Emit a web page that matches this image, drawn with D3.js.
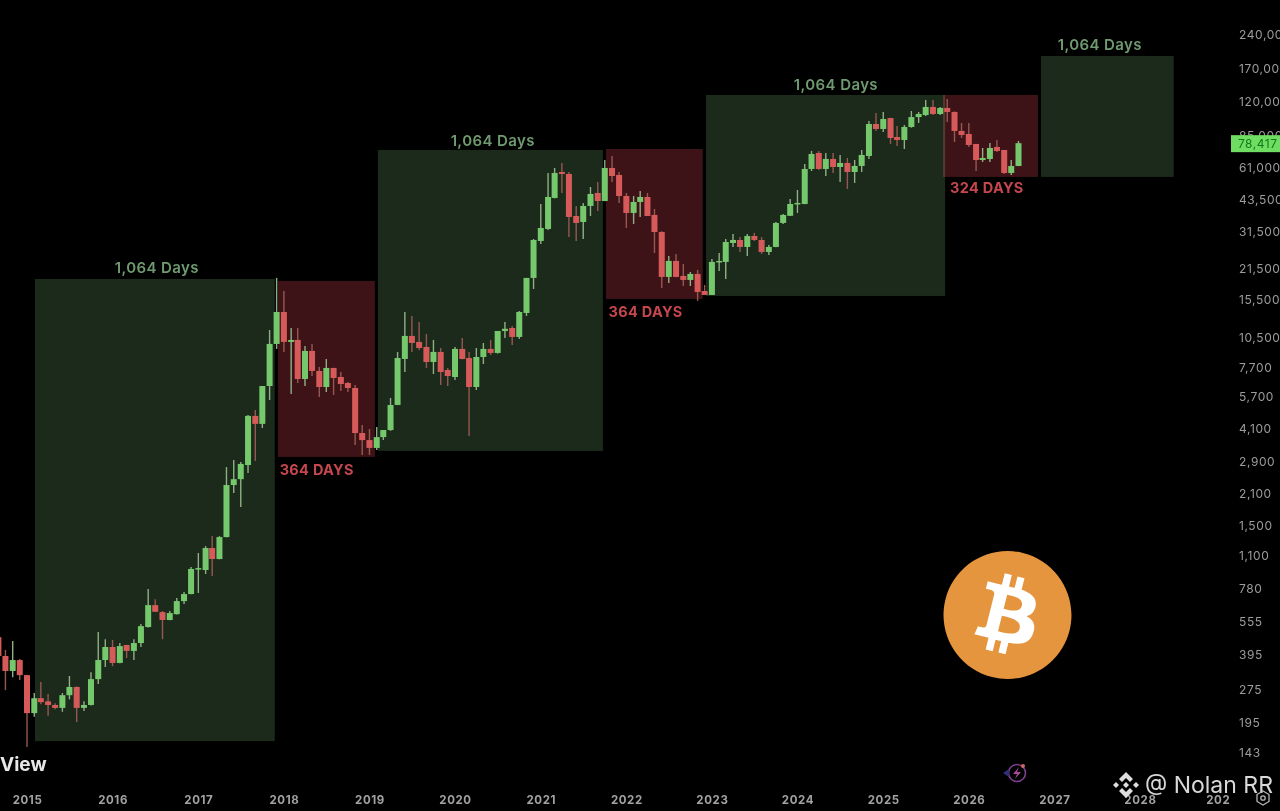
<!DOCTYPE html>
<html lang="en">
<head>
    <meta charset="UTF-8">
    <title>BTC monthly cycles</title>
    <script src="https://d3js.org/d3.v7.min.js"></script>
    <style>
        html, body { margin: 0; background: #000; overflow: hidden; }
        svg { display: block; background: #000; }
        text { font-family: Inter, "Liberation Sans", sans-serif; }
        .zone { mix-blend-mode: screen; }
        .green-label { fill: #6f9a6f; font-size: 15px; font-weight: 600; letter-spacing: 0.4px; text-anchor: middle; }
        .red-label { fill: #c4474d; font-size: 14.5px; font-weight: 700; letter-spacing: 0.3px; }
        .y-axis text { fill: #9c9c9c; font-size: 12px; letter-spacing: 0.6px; }
        .x-axis text { fill: #a2a2a2; font-size: 11.5px; font-weight: 700; letter-spacing: 0.6px; }
        .domain, .tick line { display: none; }
    </style>
</head>
<body>
<svg width="1280" height="811">
    <defs>
        <filter id="soft" x="-5%" y="-5%" width="110%" height="110%">
            <feGaussianBlur stdDeviation="0.45"></feGaussianBlur>
        </filter>
    </defs>
</svg>
<script>
    const firstMonth = "2014-09-01";

    const opens = [
        474, 390, 334, 374,
        320, 216, 252, 244, 235, 228, 260, 283, 228, 235, 307, 374,
        428, 363, 437, 411, 446, 526, 660, 614, 566, 601, 688, 740,
        959, 949, 1191, 1063, 1334, 2285, 2428, 2810, 4671, 4301, 6364, 9832,
        13683, 10037, 10246, 6841, 9145, 7435, 6298, 7669, 6984, 6565, 6234, 3913,
        3637, 3354, 3751, 4036, 5230, 8415, 10679, 10037, 9530, 8158, 9051, 7511,
        6984, 9336, 8502, 6298, 8590, 9336, 8958, 11241, 11595, 10569, 13543, 19458,
        28516, 32288, 44490, 58210, 57020, 36936, 34716, 40955, 46854, 43120, 60671, 56430,
        45417, 38098, 42687, 44950, 37320, 31300, 19660, 23196, 19863, 19060, 20274, 17003,
        16320, 22957, 22957, 27930, 28811, 26800, 30030, 28811, 25450, 26800, 34360, 37000,
        41815, 41815, 60050, 70870, 60050, 66590, 61300, 63897, 58210, 61940, 68682, 95585,
        90800, 101700, 83600, 81050, 92700, 102700, 104900, 114000, 106060, 112860, 108280, 88960,
        86240, 77770, 65902, 66590, 75400, 73080, 57617, 61940
    ];
    const highs = [
        480, 415, 455, 378,
        321, 266, 298, 263, 239, 266, 317, 285, 244, 330, 500, 464,
        460, 446, 438, 464, 543, 779, 702, 621, 621, 710, 755, 979,
        1131, 1215, 1348, 1348, 2752, 2963, 2902, 4720, 4966, 6364, 11357, 19458,
        17003, 11595, 11595, 9630, 9832, 7748, 8415, 7680, 7358, 6632, 6430, 4250,
        4078, 4163, 4036, 5623, 9051, 13683, 13133, 12344, 10898, 10246, 9433, 7669,
        9530, 10461, 9051, 9433, 9934, 10246, 11241, 12344, 11837, 13826, 19458, 29111,
        41815, 57617, 60671, 63897, 58210, 40955, 42251, 49847, 52491, 65902, 68682, 58210,
        46854, 45417, 47831, 46854, 39705, 31500, 24426, 24935, 22489, 20697, 21130, 18090,
        23680, 25190, 29111, 30662, 29718, 30662, 31000, 29700, 27360, 34716, 37700, 44030,
        48320, 63240, 72400, 72400, 70870, 70870, 69400, 67280, 65902, 73080, 98600, 107170,
        108280, 102000, 93670, 94650, 109400, 108280, 122600, 122600, 114000, 123870, 108800, 96580,
        96580, 77800, 74600, 78500, 81050, 73100, 65902, 80200
    ];
    const lows = [
        388, 274, 313, 304,
        152, 208, 237, 210, 225, 219, 249, 197, 221, 234, 292, 348,
        351, 362, 382, 374, 428, 524, 614, 464, 565, 599, 667, 738,
        748, 910, 892, 1060, 1330, 2104, 1820, 2587, 2932, 4120, 5508, 9336,
        9051, 5859, 6565, 6364, 7057, 5681, 5981, 5800, 6044, 5981, 3460, 3120,
        3120, 3286, 3637, 4000, 5220, 7358, 9051, 9240, 7669, 7207, 6430, 6364,
        6771, 8400, 3790, 6106, 7991, 8770, 8900, 10461, 9730, 10353, 13133, 17357,
        27645, 31954, 44300, 46854, 29718, 28516, 29111, 36936, 38900, 43000, 52491, 42251,
        32624, 34000, 36554, 36936, 25200, 17538, 18478, 19600, 17904, 17904, 15339, 16300,
        16300, 20900, 19257, 26800, 25450, 24426, 28516, 24935, 24680, 26700, 34000, 36900,
        38100, 41700, 58800, 59430, 55850, 57617, 52491, 48830, 51960, 58210, 66590, 88960,
        88040, 77770, 76170, 73840, 92000, 96580, 103800, 104900, 104900, 97600, 79400, 82750,
        75400, 58800, 64560, 64560, 71600, 57020, 56430, 61800
    ];
    const closes = [
        390, 334, 374, 320,
        216, 252, 242, 235, 228, 260, 283, 228, 235, 307, 374, 428,
        363, 432, 411, 446, 531, 660, 616, 566, 608, 688, 740, 959,
        968, 1191, 1063, 1334, 2285, 2428, 2843, 4671, 4301, 6364, 9832, 13683,
        10037, 10246, 6841, 9145, 7435, 6298, 7669, 6913, 6497, 6234, 3913, 3637,
        3354, 3751, 4036, 5230, 8502, 10679, 9934, 9433, 8158, 9051, 7358, 7057,
        9336, 8415, 6298, 8590, 9336, 8958, 11241, 11500, 10569, 13683, 19458, 28811,
        32624, 44950, 57617, 57020, 36554, 34360, 40955, 46370, 43120, 60671, 55850, 45417,
        38098, 42687, 44950, 36936, 31300, 19660, 23196, 19660, 19060, 20274, 16830, 16320,
        22957, 23196, 28220, 28811, 26800, 30030, 28811, 25450, 26800, 34360, 37320, 41815,
        42251, 60050, 70100, 60050, 66590, 61300, 63897, 58210, 61940, 69400, 95585, 90800,
        100650, 82750, 81050, 92700, 102700, 106060, 114000, 106060, 112860, 108280, 88960, 85350,
        76960, 65902, 67280, 74610, 72330, 57617, 61940, 78417
    ];

    const priceTicks = [240000, 170000, 120000, 85000, 61000, 43500, 31500, 21500, 15500, 10500, 7700, 5700, 4100, 2900, 2100, 1500, 1100, 780, 555, 395, 275, 195, 143];
    const yearTicks = [2015, 2016, 2017, 2018, 2019, 2020, 2021, 2022, 2023, 2024, 2025, 2026, 2027, 2028, 2029];
    const lastPrice = 78417;

    // cycle boxes
    const zoneKinds = ["up", "down", "up", "down", "up", "down", "up"];
    const zoneStarts = ["2015-02-04", "2017-12-07", "2019-02-06", "2021-10-06", "2022-12-07", "2025-09-13", "2026-11-05"];
    const zoneEnds = ["2017-11-23", "2019-01-24", "2021-09-23", "2022-11-23", "2025-09-22", "2026-10-23", "2028-05-24"];
    const zoneTops = [19257, 18860, 73080, 73840, 129100, 129100, 193200];
    const zoneBottoms = [161.7, 3056, 3252, 15660, 16150, 55300, 55300];

    const upLabels = ["1,064 Days", "1,064 Days", "1,064 Days", "1,064 Days"];
    const upLabelDates = ["2016-07-08", "2020-06-10", "2024-06-13", "2027-07-14"];
    const upLabelPrices = [20470, 76170, 135900, 205600];
    const downLabels = ["364 DAYS", "364 DAYS", "324 DAYS"];
    const downLabelDates = ["2017-12-14", "2021-10-17", "2025-10-13"];
    const downLabelPrices = [2530, 13000, 46854];

    const width = 1280;
    const height = 811;

    const x = d3.scaleUtc()
        .domain([new Date(Date.UTC(2015, 0, 1)), new Date(Date.UTC(2029, 0, 1))])
        .range([27, 1225.7]);
    const y = d3.scaleLog()
        .domain([143, 240000])
        .range([753, 35]);

    const svg = d3.select("svg");

    const zones = zoneKinds.map((kind, i) => ({
        kind,
        start: new Date(zoneStarts[i]),
        end: new Date(zoneEnds[i]),
        top: zoneTops[i],
        bottom: zoneBottoms[i]
    }));

    svg.selectAll(".zone")
        .data(zones)
        .enter()
        .append("rect")
        .attr("class", "zone")
        .attr("x", d => x(d.start))
        .attr("y", d => y(d.top))
        .attr("width", d => x(d.end) - x(d.start))
        .attr("height", d => y(d.bottom) - y(d.top))
        .attr("fill", d => d.kind === "up" ? "#1b2a1b" : "#3e1317");

    const start = new Date(firstMonth);
    const candles = opens.map((open, i) => ({
        date: d3.utcMonth.offset(start, i),
        open,
        high: highs[i],
        low: lows[i],
        close: closes[i]
    }));

    const candleWidth = 6;
    const candle = svg.append("g")
        .attr("filter", "url(#soft)")
        .selectAll(".candle")
        .data(candles)
        .enter()
        .append("g")
        .attr("class", "candle");

    candle.append("line")
        .attr("x1", d => x(d.date))
        .attr("x2", d => x(d.date))
        .attr("y1", d => y(d.high))
        .attr("y2", d => y(d.low))
        .attr("stroke", d => d.close >= d.open ? "#8fb083" : "#96584f")
        .attr("stroke-width", 1.4);

    candle.append("rect")
        .attr("x", d => x(d.date) - candleWidth / 2)
        .attr("y", d => y(Math.max(d.open, d.close)))
        .attr("width", candleWidth)
        .attr("height", d => Math.max(1.5, Math.abs(y(d.open) - y(d.close))))
        .attr("fill", d => d.close >= d.open ? "#74c86c" : "#d75a5a");

    // labels over the boxes
    svg.selectAll(".green-label")
        .data(upLabels)
        .enter()
        .append("text")
        .attr("class", "green-label")
        .attr("x", (d, i) => x(new Date(upLabelDates[i])))
        .attr("y", (d, i) => y(upLabelPrices[i]))
        .text(d => d);

    svg.selectAll(".red-label")
        .data(downLabels)
        .enter()
        .append("text")
        .attr("class", "red-label")
        .attr("x", (d, i) => x(new Date(downLabelDates[i])))
        .attr("y", (d, i) => y(downLabelPrices[i]))
        .text(d => d);

    // axes
    svg.append("g")
        .attr("class", "y-axis")
        .attr("transform", "translate(1239,0)")
        .call(d3.axisRight(y).tickValues(priceTicks).tickFormat(d3.format(",")).tickSize(0).tickPadding(0));

    const xAxis = svg.append("g")
        .attr("class", "x-axis")
        .attr("transform", "translate(0,796)")
        .call(d3.axisBottom(x)
            .tickValues(yearTicks.map(d => new Date(Date.UTC(d, 0, 1))))
            .tickFormat(d3.utcFormat("%Y"))
            .tickSize(0)
            .tickPadding(0));

    // the last label is cut in the screenshot
    xAxis.selectAll("text")
        .filter(d => d.getUTCFullYear() === 2029)
        .attr("dx", -8)
        .text("202");

    // last price tag
    svg.append("rect")
        .attr("x", 1231)
        .attr("y", y(lastPrice) - 8)
        .attr("width", 49)
        .attr("height", 17)
        .attr("fill", "#6fdc62");
    svg.append("text")
        .attr("x", 1238)
        .attr("y", y(lastPrice) + 4.5)
        .attr("fill", "#0f7a17")
        .attr("font-size", 12)
        .attr("letter-spacing", 0.5)
        .text(d3.format(",")(lastPrice));

    // bitcoin logo
    const btc = svg.append("g").attr("transform", "translate(943.5,551) scale(5.333)");
    btc.append("circle").attr("cx", 12).attr("cy", 12).attr("r", 9).attr("fill", "#fff");
    btc.append("path")
        .attr("fill", "#e6953f")
        .attr("d", "M23.638 14.904c-1.602 6.43-8.113 10.34-14.542 8.736C2.67 22.05-1.244 15.525.362 9.105 1.962 2.67 8.475-1.243 14.9.358c6.43 1.605 10.342 8.115 8.738 14.548v-.002zm-6.35-4.613c.24-1.59-.974-2.45-2.64-3.03l.54-2.153-1.315-.33-.525 2.107c-.345-.087-.705-.167-1.064-.25l.526-2.127-1.32-.33-.54 2.165c-.285-.067-.565-.132-.84-.2l-1.815-.45-.35 1.407s.975.225.955.236c.535.136.63.486.615.766l-1.477 5.92c-.075.166-.24.406-.614.314.015.02-.96-.24-.96-.24l-.66 1.51 1.71.426.93.242-.54 2.19 1.32.327.54-2.17c.36.1.705.19 1.05.273l-.51 2.154 1.32.33.545-2.19c2.24.427 3.93.257 4.64-1.774.57-1.637-.03-2.58-1.217-3.196.854-.193 1.5-.76 1.68-1.93h.01zm-3.01 4.22c-.404 1.64-3.157.75-4.05.53l.72-2.9c.896.23 3.757.67 3.33 2.37zm.41-4.24c-.37 1.49-2.662.735-3.405.55l.654-2.64c.744.18 3.137.524 2.75 2.084v.006z");

    // TradingView logo remainder
    svg.append("text")
        .attr("x", 0)
        .attr("y", 771)
        .attr("fill", "#e8e8e8")
        .attr("font-size", 19)
        .attr("font-weight", 700)
        .text("View");

    // small bolt icon
    const bolt = svg.append("g").attr("transform", "translate(1017,773)");
    bolt.append("circle").attr("r", 8.5).attr("fill", "none").attr("stroke", "#7d3f8f").attr("stroke-width", 1.6);
    bolt.append("path").attr("d", "M2-6 L-4 1 L0 1 L-2 6 L4-1 L0-1 Z").attr("fill", "#a8479c");
    bolt.append("circle").attr("cx", 6).attr("cy", -7).attr("r", 2).attr("fill", "#d06a6a");
    bolt.append("path").attr("d", "M-14 0 L-8 -4 L-8 4 Z").attr("fill", "#2f2f7a");

    // watermark
    const mark = svg.append("g").attr("transform", "translate(1126,785)").attr("fill", "#dedede");
    mark.append("path").attr("d", "M0-13 L7-6 L4-3 L0-7 L-4-3 L-7-6 Z");
    mark.append("path").attr("d", "M0 13 L7 6 L4 3 L0 7 L-4 3 L-7 6 Z");
    mark.append("path").attr("d", "M-13 0 L-10-3 L-7 0 L-10 3 Z");
    mark.append("path").attr("d", "M13 0 L10-3 L7 0 L10 3 Z");
    mark.append("path").attr("d", "M0-3 L3 0 L0 3 L-3 0 Z");
    svg.append("text")
        .attr("x", 1145)
        .attr("y", 793)
        .attr("fill", "#d8d8d8")
        .attr("font-family", "'Noto Sans', sans-serif")
        .attr("font-size", 23)
        .text("@ Nolan RR");

    // settings icon
    const gear = svg.append("g").attr("transform", "translate(1263,798)").attr("fill", "none").attr("stroke", "#b5b5b5");
    gear.append("path").attr("d", "M-6 -3.5 L0 -7 L6 -3.5 L6 3.5 L0 7 L-6 3.5 Z").attr("stroke-width", 1.3);
    gear.append("circle").attr("r", 2.2).attr("stroke-width", 1.3);
</script>
</body>
</html>
